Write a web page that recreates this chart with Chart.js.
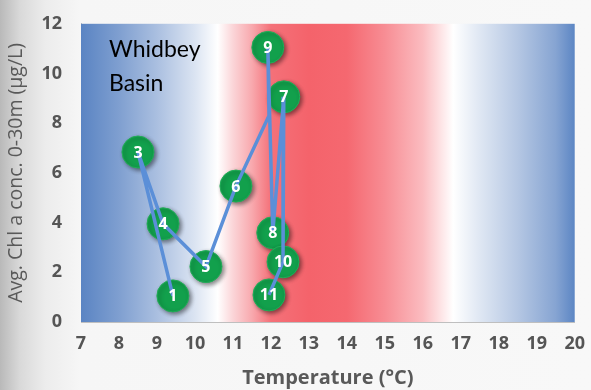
<!DOCTYPE html>
<html><head><meta charset="utf-8">
<script src="https://cdn.jsdelivr.net/npm/chart.js@4/dist/chart.umd.min.js"></script>
<style>
html,body{margin:0;padding:0;}
body{width:591px;height:390px;background:linear-gradient(to right,#b9b9b9 0px,#d9d9d9 20px,#ececec 45px,#f6f6f6 80px,#f8f8f8 100%);}
#wrap{position:relative;width:591px;height:390px;}
</style></head>
<body><div id="wrap"><canvas id="c" width="591" height="390"></canvas></div>
<script>
// Month labels and where their callouts sit (temperature °C, chl µg/L)
const labels = ["1","3","4","5","6","7","8","9","10","11"];
const labelTemp = [9.42, 8.50, 9.16, 10.29, 11.08, 12.34, 12.05, 11.92, 12.32, 11.95];
const labelChl  = [1.05, 6.84, 3.95, 2.23, 5.47, 9.06, 3.59, 11.05, 2.42, 1.09];
// Connecting line path (temperature, chl)
const pathTemp = [9.42, 8.50, 9.16, 10.29, 11.08, 11.95, 11.92, 12.05, 12.34, 12.32, 11.95];
const pathChl  = [1.05, 6.84, 3.95, 2.23, 5.47, 8.30, 11.05, 3.59, 9.06, 2.42, 1.09];
const xTicks = [7,8,9,10,11,12,13,14,15,16,17,18,19,20];
const yTicks = [0,2,4,6,8,10,12];
// Background colour bands (temperature -> colour)
const bandTemp = [7, 8, 9, 10, 10.6, 11, 11.5, 12, 13, 14, 15, 16, 16.8, 17.5, 18.5, 19.5, 20];
const bandColor = ["#5a84c3","#7f9fd0","#aabfe0","#dbe4f2","#ffffff","#fbd5d8","#f8a9ae","#f47179","#f4636b","#f56870","#f78d94","#fbbcc0","#ffffff","#dfe7f3","#b5c7e3","#86a4d2","#5c86c4"];

const bgPlugin = {
  id:'bg',
  beforeDatasetsDraw(chart){
    const {ctx, chartArea:a, scales:{x}} = chart;
    const g = ctx.createLinearGradient(a.left,0,a.right,0);
    const w = a.right - a.left;
    bandTemp.forEach((t,i)=>{ g.addColorStop((x.getPixelForValue(t)-a.left)/w, bandColor[i]); });
    ctx.save(); ctx.fillStyle = g; ctx.fillRect(a.left,a.top,w,a.bottom-a.top);
    ctx.fillStyle = '#000'; ctx.font = '23px Lato'; ctx.textBaseline='middle';
    ctx.fillText('Whidbey', a.left+28, a.top+26);
    ctx.fillText('Basin', a.left+28, a.top+60);
    ctx.restore();
  }
};
const shadowPlugin = {
  id:'shadow',
  beforeDatasetDraw(chart,args){ if(args.index===1){ const c=chart.ctx; c.save(); c.shadowColor='rgba(0,0,0,0.45)'; c.shadowBlur=4; c.shadowOffsetX=2; c.shadowOffsetY=2; } },
  afterDatasetDraw(chart,args){ if(args.index===1){ chart.ctx.restore(); } },
  afterDatasetsDraw(chart){
    const ctx=chart.ctx; const meta=chart.getDatasetMeta(1);
    ctx.save(); ctx.fillStyle='#fff'; ctx.font='bold 16px "Open Sans"'; ctx.textAlign='center'; ctx.textBaseline='middle';
    meta.data.forEach((p,i)=>{ ctx.fillText(labels[i], p.x, p.y+1); });
    ctx.restore();
  }
};
const tickFont = {family:'"Open Sans"',size:18,weight:'bold'};

new Chart(document.getElementById('c'),{
  type:'scatter',
  data:{datasets:[
    {data:pathTemp.map((t,i)=>({x:t,y:pathChl[i]})), showLine:true, borderColor:'#5b8fd8', borderWidth:3.5, pointRadius:0, tension:0},
    {data:labelTemp.map((t,i)=>({x:t,y:labelChl[i]})), showLine:false, pointRadius:16, backgroundColor:'#12a04c', borderColor:'#22ad58', borderWidth:1}
  ]},
  options:{
    responsive:false, animation:false, events:[],
    layout:{autoPadding:false,padding:{top:14,right:16,left:0,bottom:0}},
    plugins:{legend:{display:false},tooltip:{enabled:false}},
    scales:{
      x:{type:'linear',min:7,max:20,
        afterBuildTicks(s){ s.ticks = xTicks.map(v=>({value:v})); },
        afterFit(s){ s.height = 68; },
        grid:{display:false,drawTicks:true,tickLength:5,color:'#bfbfbf'},
        border:{display:true,color:'#bfbfbf',width:1},
        ticks:{color:'#555555',font:tickFont,padding:6,maxRotation:0},
        title:{display:true,text:'Temperature (°C)',color:'#595959',font:{family:'"Open Sans"',size:20,weight:'bold'},padding:{top:0,bottom:0}}
      },
      y:{type:'linear',min:0,max:12,
        afterBuildTicks(s){ s.ticks = yTicks.map(v=>({value:v})); },
        afterFit(s){ s.width = 81; },
        grid:{display:false,drawTicks:true,tickLength:6,color:'#bfbfbf'},
        border:{display:true,color:'#bfbfbf',width:1},
        ticks:{color:'#555555',font:tickFont,padding:13},
        title:{display:true,text:'Avg. Chl a conc. 0-30m (µg/L)',color:'#595959',font:{family:'"Open Sans"',size:19.5},padding:{top:5,bottom:0}}
      }
    }
  },
  plugins:[bgPlugin,shadowPlugin]
});
</script></body></html>
